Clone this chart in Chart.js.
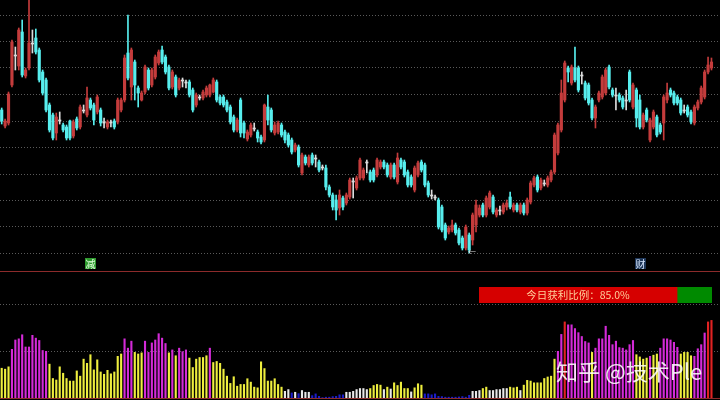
<!DOCTYPE html>
<html>
<head>
<meta charset="utf-8">
<script src="https://cdn.jsdelivr.net/npm/chart.js@4.4.1/dist/chart.umd.min.js"></script>
<style>
  html, body { margin: 0; background: #000; }
  #wrap { position: relative; width: 720px; height: 400px; background: #000; overflow: hidden;
          font-family: "Noto Sans CJK SC", "Noto Sans", sans-serif; }
  #priceChart { position: absolute; left: 0; top: 0; }
  #volChart { position: absolute; left: 0; top: 272px; }
  #ratioChart { position: absolute; left: 479px; top: 287px; }
  .rule { position: absolute; left: 0; width: 720px; height: 1px; background: #8c2b2b; }
  .tag { position: absolute; font-size: 10px; line-height: 11px; text-align: center; }
  #ratioText { position: absolute; left: 479px; top: 287px; width: 198px; height: 16px;
               line-height: 16px; text-align: center; font-size: 10.5px; color: #ffcf9a; }
  #mark { position: absolute; left: 556px; top: 354px; font-size: 22px; color: rgba(255,255,255,0.88);
          white-space: nowrap; }
</style>
</head>
<body>
<div id="wrap">
  <canvas id="priceChart" width="720" height="270"></canvas>
  <div class="rule" style="top:271px"></div>
  <canvas id="volChart" width="720" height="126"></canvas>
  <div class="rule" style="top:398px"></div>
  <canvas id="ratioChart" width="233" height="16"></canvas>
  <div id="ratioText"></div>
  <div class="tag" style="left:85px;top:258px;width:11px;height:11px;background:#2e9a2e;color:#e4ffe0">减</div>
  <div class="tag" style="left:635px;top:258px;width:11px;height:11px;background:#1e3658;color:#d8e8ff">财</div>
  <div class="tag" style="left:468px;top:246px;font-size:8px;color:#ddd">←</div>
  <div id="mark">知乎 @技术Ple</div>
</div>

<script>
// daily candles, left to right
const openPrice = [
  8.90,8.74,8.77,9.15,9.45,9.34,9.68,9.24,9.32,9.57,
  9.62,9.50,9.28,9.20,8.95,8.85,8.67,8.80,8.75,8.73,
  8.79,8.64,8.81,8.73,8.89,8.85,9.00,8.95,8.88,8.90,
  8.78,8.73,8.78,8.79,8.78,8.90,9.00,9.47,9.13,9.38,
  9.12,9.00,9.08,9.30,9.15,9.23,9.37,9.50,9.43,9.33,
  9.13,9.23,9.12,9.20,9.18,9.18,9.10,8.95,9.03,9.02,
  9.05,9.05,9.08,9.18,9.03,9.03,8.98,8.93,8.83,8.70,
  9.00,8.77,8.61,8.65,8.72,8.68,8.63,8.60,8.93,8.90,
  8.67,8.68,8.75,8.68,8.65,8.60,8.50,8.53,8.27,8.43,
  8.35,8.45,8.42,8.38,8.33,8.32,8.13,8.05,8.00,7.92,
  8.02,7.97,8.03,8.19,8.12,8.22,8.22,8.38,8.28,8.30,
  8.25,8.33,8.38,8.35,8.23,8.35,8.18,8.40,8.38,8.28,
  8.23,8.10,8.25,8.38,8.35,8.17,8.05,8.03,8.00,7.93,
  7.75,7.68,7.70,7.75,7.70,7.62,7.52,7.65,7.60,7.75,
  7.85,7.95,7.85,7.93,8.03,7.85,7.90,7.88,7.93,8.03,
  7.90,7.95,7.88,7.95,7.87,7.98,8.15,8.23,8.12,8.17,
  8.15,8.20,8.28,8.47,8.70,9.00,9.32,9.17,9.32,9.32,
  9.25,9.17,9.15,9.00,8.82,9.00,9.03,9.07,9.33,9.10,
  9.05,9.05,9.02,9.00,9.28,8.93,9.10,9.00,8.73,8.90,
  8.60,8.73,8.83,8.75,8.77,9.00,9.10,9.07,9.03,9.00,
  8.90,8.93,8.88,8.77,8.92,8.98,9.03,9.28,9.32
];
const closePrice = [
  8.79,8.79,9.06,9.58,9.44,9.70,9.25,9.30,9.57,9.56,
  9.48,9.20,9.07,8.90,8.70,8.62,8.83,8.79,8.70,8.62,
  8.62,8.78,8.72,8.93,8.90,9.02,8.92,8.80,9.03,8.77,
  8.77,8.78,8.77,8.73,9.00,9.00,9.42,9.22,9.50,9.15,
  9.07,9.07,9.33,9.12,9.30,9.43,9.48,9.38,9.28,9.12,
  9.28,9.05,9.20,9.19,9.17,9.05,8.90,9.05,9.02,9.08,
  9.12,9.15,9.20,9.00,8.97,8.95,8.90,8.78,8.70,8.80,
  8.67,8.67,8.68,8.75,8.71,8.62,8.58,8.95,8.80,8.70,
  8.75,8.77,8.65,8.60,8.55,8.48,8.55,8.35,8.45,8.37,
  8.43,8.37,8.41,8.30,8.32,8.13,8.05,7.93,7.90,8.05,
  7.93,8.05,8.20,8.18,8.22,8.40,8.30,8.37,8.20,8.20,
  8.40,8.38,8.33,8.25,8.35,8.23,8.42,8.33,8.25,8.15,
  8.15,8.32,8.37,8.30,8.15,8.05,8.04,8.02,7.73,7.70,
  7.62,7.72,7.75,7.67,7.57,7.52,7.73,7.50,7.85,7.95,
  7.92,7.85,8.02,8.07,7.88,7.90,7.89,7.95,7.97,7.93,
  7.95,7.90,7.95,7.87,8.00,8.17,8.22,8.10,8.20,8.16,
  8.22,8.28,8.65,8.75,9.07,9.37,9.28,9.33,9.20,9.10,
  9.24,9.02,8.97,8.82,8.93,9.07,9.23,9.30,9.13,9.05,
  9.04,9.00,8.93,8.99,9.00,9.15,8.82,8.73,8.85,8.80,
  8.80,8.88,8.65,8.68,9.03,9.07,9.05,8.97,8.97,8.87,
  8.89,8.85,8.78,8.93,8.98,9.12,9.28,9.35,9.38
];
const highPrice = [
  8.92,8.81,9.08,9.60,9.53,9.72,9.80,9.32,10.00,9.70,
  9.71,9.52,9.30,9.22,8.97,8.87,8.87,8.88,8.77,8.75,
  8.80,8.80,8.83,8.95,8.95,9.13,9.02,8.97,9.05,8.92,
  8.82,8.80,8.80,8.81,9.02,9.02,9.45,9.85,9.52,9.40,
  9.14,9.09,9.35,9.32,9.32,9.45,9.50,9.54,9.45,9.35,
  9.30,9.25,9.22,9.22,9.20,9.20,9.12,9.07,9.05,9.10,
  9.14,9.16,9.22,9.20,9.05,9.05,9.00,8.95,8.85,8.82,
  9.02,8.79,8.70,8.77,8.77,8.70,8.65,8.96,9.05,8.92,
  8.78,8.79,8.77,8.70,8.67,8.62,8.57,8.55,8.47,8.45,
  8.45,8.47,8.45,8.40,8.35,8.35,8.15,8.07,8.05,8.10,
  8.04,8.07,8.22,8.22,8.24,8.42,8.32,8.40,8.30,8.32,
  8.42,8.40,8.40,8.37,8.37,8.37,8.47,8.42,8.40,8.30,
  8.25,8.34,8.39,8.40,8.37,8.19,8.10,8.05,8.02,7.95,
  7.77,7.74,7.80,7.77,7.72,7.64,7.75,7.67,7.87,8.00,
  7.95,7.97,8.04,8.09,8.05,7.92,7.94,7.97,8.00,8.08,
  7.97,7.97,7.97,7.97,8.02,8.19,8.24,8.25,8.22,8.20,
  8.24,8.30,8.67,8.77,9.20,9.39,9.34,9.35,9.53,9.34,
  9.28,9.19,9.17,9.02,8.95,9.09,9.25,9.32,9.35,9.12,
  9.12,9.07,9.04,9.10,9.30,9.17,9.12,9.05,8.87,8.92,
  8.82,8.90,8.85,8.77,9.05,9.17,9.12,9.09,9.05,9.02,
  8.95,8.95,8.90,8.95,9.00,9.14,9.30,9.43,9.42
];
const lowPrice = [
  8.76,8.72,8.75,9.13,9.30,9.30,9.23,9.22,9.30,9.47,
  9.46,9.18,9.05,8.88,8.68,8.60,8.60,8.76,8.68,8.60,
  8.60,8.62,8.70,8.71,8.87,8.83,8.90,8.75,8.86,8.74,
  8.72,8.71,8.73,8.71,8.76,8.88,8.98,9.20,9.00,9.00,
  8.93,8.99,9.06,9.10,9.13,9.21,9.35,9.36,9.26,9.10,
  9.11,9.03,9.10,9.13,9.12,9.03,8.88,8.93,9.00,9.00,
  9.03,9.03,9.07,8.98,8.95,8.93,8.88,8.76,8.68,8.68,
  8.63,8.62,8.59,8.63,8.69,8.58,8.56,8.58,8.75,8.68,
  8.65,8.66,8.63,8.57,8.53,8.46,8.48,8.33,8.25,8.35,
  8.33,8.35,8.33,8.28,8.30,8.10,8.03,7.90,7.80,7.85,
  7.90,7.95,8.01,8.02,8.10,8.20,8.20,8.27,8.18,8.18,
  8.23,8.31,8.31,8.23,8.21,8.21,8.16,8.31,8.23,8.13,
  8.13,8.08,8.23,8.28,8.13,8.03,8.01,8.00,7.71,7.68,
  7.60,7.66,7.68,7.65,7.55,7.50,7.50,7.47,7.55,7.68,
  7.83,7.83,7.83,7.91,7.86,7.83,7.85,7.86,7.90,7.91,
  7.88,7.88,7.86,7.85,7.85,7.96,8.13,8.08,8.10,8.14,
  8.13,8.18,8.26,8.45,8.68,8.98,9.18,9.15,9.18,9.08,
  9.16,9.00,8.95,8.80,8.72,8.98,9.01,9.05,9.11,9.03,
  8.90,8.98,8.91,8.90,8.98,8.91,8.73,8.71,8.71,8.78,
  8.58,8.71,8.63,8.66,8.60,8.97,9.03,8.95,8.95,8.85,
  8.87,8.83,8.76,8.75,8.90,8.96,9.01,9.26,9.30
];
// dotted price grid lines (evenly split between panel high and low)
const priceGrid = [9.85, 9.585, 9.32, 9.055, 8.79, 8.525, 8.26, 7.995, 7.73, 7.465];

// lower indicator panel
const barValues = [
  25.8,25,27,42,50,51,54.5,44,44,54, 51.6,49.6,41,40.3,29.3,17,15.7,27,21.5,17,
  14.8,14.8,23.5,19,33.6,30,37.4,24.4,33,22.6, 20.6,24,21,22.6,36,38,51,43,49,39.4,
  38,39,49,39.4,47.5,50,55.4,51.6,47,39, 41.5,36.5,43,40,41.5,34.5,26.4,33.6,35,35,
  36.5,43,30.7,31.6,30,25,19,12.8,18.5,
  10.4,11.9,11.9,16.8,13.9,9.6,9,31.3,25.5,14.8, 14.8,16.8,11.9,9.6,6,7.5,4.6,5.2,4,6.7,
  5.2,5.2,2.3,3.8,1.7,0.6,1,1,1.5,1.7, 3,3,5.2,5.2,6,7.5,8.4,8.4,7.5,8.4,
  11,11.9,11.3,7.5,9.6,8,13.3,11,13.9,8.4, 8.4,5.5,9,12.5,11.3,3.8,3.8,3,3.8,1.7,
  1.5,1,1,1,1,1.2,1.5,1,2.6,6,6,
  6.7,8.4,9.6,6.7,6.7,7.5,7.5,8.4,8.4,9.6, 9,9.6,6.7,11.3,15.4,14.8,13.3,13.3,13.3,17,
  18.3,19,33.6,40.3,54.8,65.5,63,63,59.8,56.3, 53,48.7,47.5,39.4,43,51,51,61.8,54,46,
  49,43.5,43,41.5,46,49.6,37.4,35.5,33.6,34.5, 36,37,38,43,51,51,50,48,43.7,38,
  39.4,39.4,36.5,36,42.5,46,56,65.5,66.8
];
// y = yellow, m = magenta, w = white, b = blue, r = red
const barKinds = (
  "yyy" + "mmmmmmmmmmm" + "yyyyyyyyyyyyyyyyyyyyyy" + "mmm" + "yyy" + "mmmmmmm" + "ymy" + "mmm" +
  "yyyyyy" + "m" + "yyyyyyy" +
  "yyyyyyyyyyyyyy" + "ww" + "bwb" + "www" + "bbbbbbbbbb" + "wwwwwww" + "yyyy" + "wyw" + "yyyyy" +
  "w" + "yyy" + "bbbbbbbbbbbbbb" + "ww" +
  "w" + "yy" + "wwwwww" + "yyy" + "w" + "yyyyyyyyyy" + "mm" + "r" + "mmmmmmm" + "y" + "mmmmmmmmmmmm" +
  "yyyy" + "m" + "yy" + "mmmmmm" + "yyyy" + "mmmm" + "rr"
).split("");
const volGrid = [40, 80];

const profitShare = [85.0];
const lossShare = [15.0];

const candleColors = { r: "#c43c3c", c: "#57eeee", w: "#dcdcdc" };
const barColors = { y: "#eeee3e", m: "#d42ad8", w: "#e8e8e8", b: "#1c1cc8", r: "#e02222" };

function candleKind(i) {
  const d = closePrice[i] - openPrice[i];
  if (Math.abs(d) < 0.015) return "w";
  return d > 0 ? "r" : "c";
}

// two empty slots keep the last bar off the right edge
const labels = openPrice.map((_, i) => String(i + 1)).concat(["", ""]);

const base = {
  responsive: false,
  animation: false,
  events: [],
  layout: { padding: 0 },
  plugins: { legend: { display: false }, tooltip: { enabled: false } }
};

function gridAxis(min, max, ticks) {
  return {
    min: min, max: max,
    afterBuildTicks: s => { s.ticks = ticks.map(v => ({ value: v })); },
    ticks: { display: false },
    grid: { color: "#5a5a5a", lineWidth: 1, drawTicks: false },
    border: { display: false, dash: [1, 2] }
  };
}

new Chart(document.getElementById("priceChart"), {
  type: "bar",
  data: {
    labels: labels,
    datasets: [
      {
        label: "wick",
        data: lowPrice.map((l, i) => [l, highPrice[i]]),
        backgroundColor: ctx => candleColors[candleKind(ctx.dataIndex)],
        barThickness: 1,
        grouped: false,
        order: 2
      },
      {
        label: "body",
        data: openPrice.map((o, i) => [o, closePrice[i]]),
        backgroundColor: ctx => candleColors[candleKind(ctx.dataIndex)],
        barThickness: 2.5,
        minBarLength: 1,
        grouped: false,
        order: 1
      }
    ]
  },
  options: {
    ...base,
    scales: {
      x: { display: false, offset: true },
      y: gridAxis(7.30, 10.00, priceGrid)
    }
  }
});

new Chart(document.getElementById("volChart"), {
  type: "bar",
  data: {
    labels: labels,
    datasets: [{
      data: barValues,
      backgroundColor: ctx => barColors[barKinds[ctx.dataIndex]],
      barPercentage: 0.62,
      categoryPercentage: 1
    }]
  },
  options: {
    ...base,
    scales: {
      x: { display: false, offset: true },
      y: gridAxis(0, 108, volGrid)
    }
  }
});

new Chart(document.getElementById("ratioChart"), {
  type: "bar",
  data: {
    labels: ["今日获利比例"],
    datasets: [
      { data: profitShare, backgroundColor: "#d60000", barPercentage: 1, categoryPercentage: 1 },
      { data: lossShare, backgroundColor: "#008a00", barPercentage: 1, categoryPercentage: 1 }
    ]
  },
  options: {
    ...base,
    indexAxis: "y",
    scales: {
      x: { display: false, stacked: true, min: 0, max: 100 },
      y: { display: false, stacked: true }
    }
  }
});

document.getElementById("ratioText").textContent = "今日获利比例：" + profitShare[0].toFixed(1) + "%";
</script>
</body>
</html>
